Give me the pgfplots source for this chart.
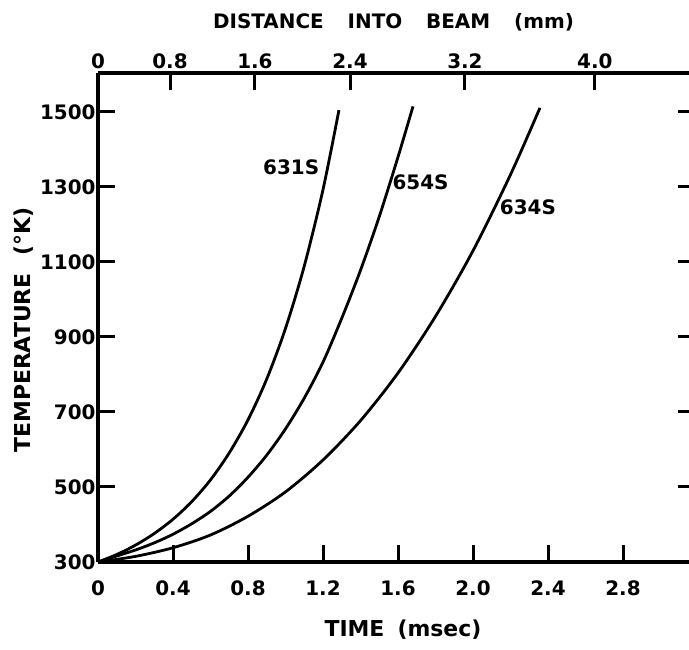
\documentclass[border=0pt]{standalone}
\usepackage{fontspec}
\setmainfont{DejaVu Sans}
\usepackage{pgfplots}
\pgfplotsset{compat=1.18}
\newcommand{\tkfont}{\bfseries\fontsize{20}{20}\selectfont}
\newcommand{\lbfont}{\bfseries\fontsize{22}{22}\selectfont}
\begin{document}
\begin{tikzpicture}
\pgfplotsset{
  common/.style={
    width=591bp, height=489bp, scale only axis,
    xmin=0, xmax=3.152, ymin=300, ymax=1604,
    enlargelimits=false, clip=false,
    tick align=inside,
    axis line style={-, line width=3.2bp, black},
    tick style={line width=3bp, black},
    tick label style={font=\tkfont},
  }
}
% main axis: bottom and left
\begin{axis}[common, name=ax,
  axis x line*=bottom, axis y line*=left,
  major tick length=17bp,
  xtick={0,0.4,0.8,1.2,1.6,2.0,2.4,2.8},
  xticklabels={0,0.4,0.8,1.2,1.6,2.0,2.4,2.8},
  ytick={300,500,700,900,1100,1300,1500},
  yticklabels={300,500,700,900,1100,1300,1500},
  xticklabel style={yshift=-15bp},
  yticklabel style={xshift=1bp},
]
% 631S
\addplot[line width=2.8bp, smooth] coordinates {
 (0,300) (0.1,320) (0.2,345) (0.3,376) (0.4,414) (0.5,461) (0.6,519) (0.7,591)
 (0.8,679) (0.9,788) (1.0,923) (1.1,1089) (1.2,1293) (1.285,1505)};
% 654S
\addplot[line width=2.8bp, smooth] coordinates {
 (0,300) (0.1,316) (0.2,332) (0.3,351) (0.4,374) (0.5,402) (0.6,435) (0.7,476)
 (0.8,526) (0.9,585) (1.0,655) (1.1,737) (1.2,833) (1.3,950) (1.4,1078)
 (1.5,1221) (1.6,1380) (1.68,1515)};
% 634S
\addplot[line width=2.8bp, smooth] coordinates {
 (0,300) (0.2,315) (0.4,338) (0.6,372) (0.8,422) (1.0,487) (1.2,572) (1.4,677)
 (1.6,804) (1.8,955) (2.0,1130) (2.2,1333) (2.357,1511)};
\node[font=\tkfont] at (axis cs:1.03,1353) {631S};
\node[font=\tkfont] at (axis cs:1.72,1313) {654S};
\node[font=\tkfont] at (axis cs:2.293,1247) {634S};
\node[font=\lbfont] at (axis description cs:0.516,-0.139) {TIME\hspace{0.6em}(msec)};
\node[font=\lbfont, rotate=90] at (axis description cs:-0.125,0.474) {TEMPERATURE\hspace{0.8em}(°K)};
\node[font=\tkfont] at (axis description cs:0.5,1.103) {DISTANCE\hspace{1.2em}INTO\hspace{1.2em}BEAM\hspace{1.2em}(mm)};
\end{axis}
% top axis: distance
\begin{axis}[common, at={(ax.south west)}, anchor=south west,
  axis x line*=top, axis y line*=right,
  y axis line style={draw=none},
  major tick length=17bp,
  xtick={0,0.384,0.837,1.344,1.957,2.65},
  xticklabels={0,0.8,1.6,2.4,3.2,4.0},
  xticklabel style={yshift=1bp},
  ytick=\empty,
]
\end{axis}
% right ticks only
\begin{axis}[common, at={(ax.south west)}, anchor=south west,
  axis x line=none, axis y line*=right,
  y axis line style={draw=none},
  major tick length=11bp,
  ytick={500,700,900,1100,1300,1500},
  yticklabels={},
]
\end{axis}
\pgfresetboundingbox
\path ([shift={(-98bp,-88bp)}]ax.south west) rectangle ([shift={(0bp,73bp)}]ax.north east);
\end{tikzpicture}
\end{document}
